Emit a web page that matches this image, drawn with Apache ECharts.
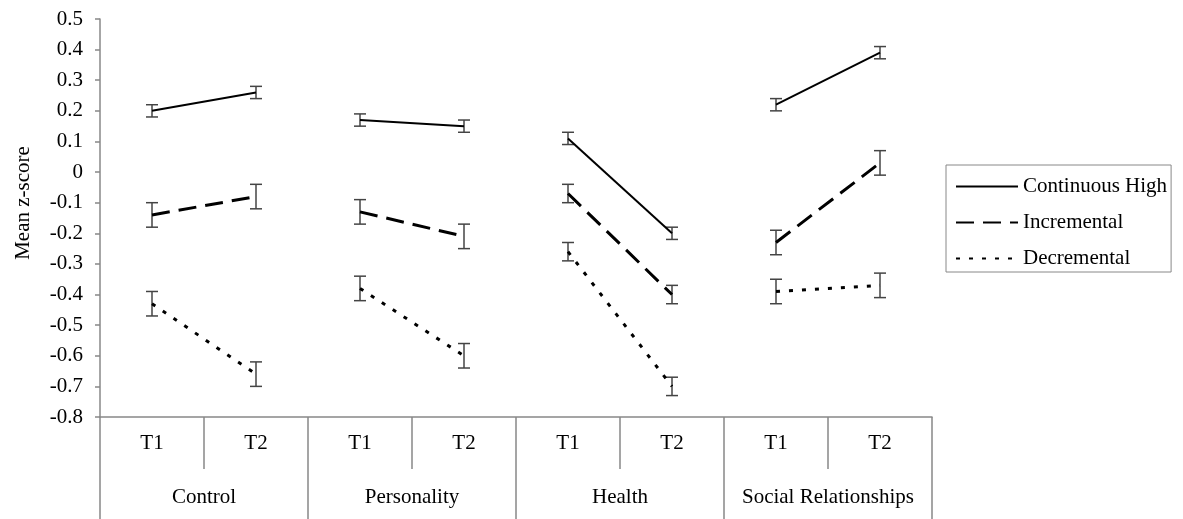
<!DOCTYPE html>
<html>
<head>
<meta charset="utf-8">
<script src="https://cdn.jsdelivr.net/npm/echarts@6/dist/echarts.min.js"></script>
<style>html,body{margin:0;padding:0;background:#fff;}#c{width:1183px;height:519px;}</style>
</head>
<body>
<div id="c"></div>
<script>
const timeLabels = ['T1','T2','T1','T2','T1','T2','T1','T2'];
const groups = ['Control','Personality','Health','Social Relationships'];
const seriesNames = ['Continuous High','Incremental','Decremental'];
const continuousHigh = [0.20, 0.26, 0.17, 0.15, 0.11, -0.20, 0.22, 0.39];
const continuousHighErr = [0.02, 0.02, 0.02, 0.02, 0.02, 0.02, 0.02, 0.02];
const incremental = [-0.14, -0.08, -0.13, -0.21, -0.07, -0.40, -0.23, 0.03];
const incrementalErr = [0.04, 0.04, 0.04, 0.04, 0.03, 0.03, 0.04, 0.04];
const decremental = [-0.43, -0.66, -0.38, -0.60, -0.26, -0.70, -0.39, -0.37];
const decrementalErr = [0.04, 0.04, 0.04, 0.04, 0.03, 0.03, 0.04, 0.04];
const yTicks = [-0.8,-0.7,-0.6,-0.5,-0.4,-0.3,-0.2,-0.1,0,0.1,0.2,0.3,0.4,0.5];

const FONT = 'Liberation Serif';
const FS = 21;
const values = [continuousHigh, incremental, decremental];
const errs = [continuousHighErr, incrementalErr, decrementalErr];
const styles = [
  {type:'solid', width:2},
  {type:[18,9], width:3},
  {type:[4,9], width:3}
];

const series = [];
values.forEach((vals, s) => {
  groups.forEach((g, gi) => {
    const data = vals.map((v, i) => (Math.floor(i/2) === gi ? v : '-'));
    series.push({
      name: seriesNames[s], type: 'line', data: data,
      xAxisIndex: 0, symbol: 'none', silent: true, animation: false,
      lineStyle: {color:'#000', width: styles[s].width, type: styles[s].type, cap:'butt'},
      itemStyle: {color:'#000'}
    });
  });
  series.push({
    type: 'custom', xAxisIndex: 0, silent: true, animation: false, z: 3,
    data: vals.map((v, i) => [i, v - errs[s][i], v + errs[s][i]]),
    encode: {x: 0, y: [1, 2]},
    renderItem: function (params, api) {
      const x = api.value(0);
      const lo = api.coord([x, api.value(1)]);
      const hi = api.coord([x, api.value(2)]);
      const w = 6;
      const st = {stroke:'#444', lineWidth:1.5, fill:null};
      return {type:'group', children:[
        {type:'line', shape:{x1:lo[0], y1:lo[1], x2:hi[0], y2:hi[1]}, style:st},
        {type:'line', shape:{x1:lo[0]-w, y1:lo[1], x2:lo[0]+w, y2:lo[1]}, style:st},
        {type:'line', shape:{x1:hi[0]-w, y1:hi[1], x2:hi[0]+w, y2:hi[1]}, style:st}
      ]};
    }
  });
});

const chart = echarts.init(document.getElementById('c'), null, {renderer:'canvas'});
chart.setOption({
  backgroundColor: '#fff',
  animation: false,
  grid: {left: 100, right: 251, top: 19, bottom: 102, containLabel: false},
  legend: {
    orient: 'vertical', left: 946, top: 165,
    data: seriesNames,
    itemWidth: 62, itemHeight: 14, itemGap: 15,
    padding: [11, 4, 3, 9],
    borderColor: '#888', borderWidth: 1,
    itemStyle: {opacity: 0},
    textStyle: {fontFamily: FONT, fontSize: FS, color:'#000', lineHeight: 21},
    selectedMode: false
  },
  xAxis: [
    {
      type: 'category', data: timeLabels, position: 'bottom', boundaryGap: true,
      axisLine: {show: true, onZero: false, lineStyle: {color:'#888', width:1.5}},
      axisTick: {show: true, interval: 0, length: 52, lineStyle: {color:'#888', width:1.5}},
      axisLabel: {interval: 0, margin: 16, fontFamily: FONT, fontSize: FS, color:'#000'},
      splitLine: {show: false}
    },
    {
      type: 'category', data: groups, position: 'bottom', boundaryGap: true,
      axisLine: {show: false, onZero: false},
      axisTick: {show: true, interval: 0, length: 102, lineStyle: {color:'#888', width:1.5}},
      axisLabel: {interval: 0, margin: 70, fontFamily: FONT, fontSize: FS, color:'#000'},
      splitLine: {show: false}
    }
  ],
  yAxis: {
    type: 'value', min: -0.8, max: 0.5, interval: 0.1,
    name: 'Mean z-score', nameLocation: 'middle', nameGap: 66, nameRotate: 90,
    nameTextStyle: {fontFamily: FONT, fontSize: FS, color:'#000', padding: [0, 0, 0, 30]},
    axisLine: {show: true, lineStyle: {color:'#888', width:1.5}},
    axisTick: {show: true, inside: false, length: 5, lineStyle: {color:'#888', width:1.5}},
    axisLabel: {margin: 17, fontFamily: FONT, fontSize: FS, color:'#000',
      formatter: function (v) { return String(+v.toFixed(1)); }},
    splitLine: {show: false}
  },
  series: series
});
</script>
</body>
</html>
